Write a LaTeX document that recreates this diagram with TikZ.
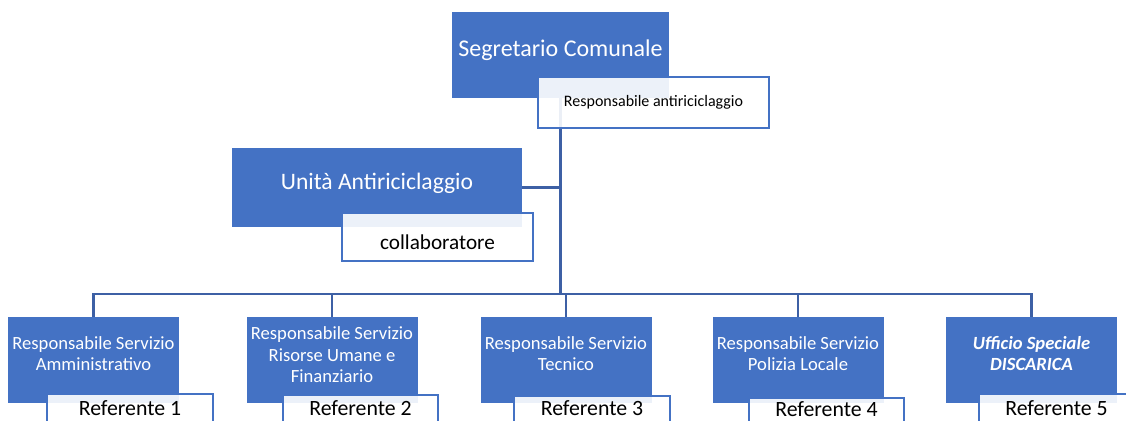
\documentclass[tikz,border=0pt]{standalone}
\usepackage{fontspec}
\setmainfont{Carlito}
\definecolor{boxblue}{RGB}{68,114,196}
\definecolor{lineblue}{RGB}{61,96,165}
\newcommand{\fsz}[1]{\fontsize{#1}{#1}\selectfont}
\newcommand{\fszb}[2]{\fontsize{#1}{#2}\selectfont}
\tikzset{
  bluebox/.style={fill=boxblue, draw=none, inner sep=0pt, minimum width=171pt, minimum height=86pt},
  boxtext/.style={text=white, align=center, inner sep=0pt},
  whitebox/.style={fill=white, fill opacity=0.9, draw=boxblue, draw opacity=1, line width=2pt, inner sep=0pt, text opacity=1},
  reftext/.style={text=black, inner sep=0pt, font=\fsz{21.8}, anchor=base},
  conn/.style={draw=lineblue, line width=2.6pt}
}
\begin{document}
\begin{tikzpicture}[x=1pt,y=-1pt]
\useasboundingbox (0,0) rectangle (1126,420);
\clip (0,0) rectangle (1126,420);
\coordinate (bus) at (561,294);
% blue boxes
\node[bluebox, minimum width=217pt, minimum height=86pt,
  label={[boxtext, font=\fsz{24}, yshift=5pt]center:Segretario Comunale}] (seg) at (560.5,55) {};
\node[bluebox, minimum width=290pt, minimum height=79pt,
  label={[boxtext, font=\fsz{23.6}, yshift=4.5pt]center:Unità Antiriciclaggio}] (unita) at (377,187.5) {};
\node[bluebox, label={[boxtext, font=\fszb{18.6}{21}, yshift=6pt]center:Responsabile Servizio\\Amministrativo}] (b1) at (93.5,360) {};
\node[bluebox, label={[boxtext, font=\fszb{18.6}{21.5}, yshift=5pt]center:Responsabile Servizio\\Risorse Umane e\\Finanziario}] (b2) at (332,360) {};
\node[bluebox, label={[boxtext, font=\fszb{18.6}{21}, yshift=6pt]center:Responsabile Servizio\\Tecnico}] (b3) at (566,360) {};
\node[bluebox, label={[boxtext, font=\fszb{18.6}{21}, yshift=6pt]center:Responsabile Servizio\\Polizia Locale}] (b4) at (798,360) {};
\node[bluebox, label={[boxtext, font=\fszb{18.6}{21}\itshape\bfseries, yshift=6.5pt]center:Ufficio Speciale\\DISCARICA}] (b5) at (1031.5,360) {};
% connectors
\draw[conn] (seg.south) -- (seg.south |- bus);
\draw[conn] (unita.east) -- (unita.east -| bus);
\draw[conn] (b1.north) -- (b1.north |- bus) -- (b5.north |- bus) -- (b5.north);
\draw[conn] (b2.north) -- (b2.north |- bus);
\draw[conn] (b3.north) -- (b3.north |- bus);
\draw[conn] (b4.north) -- (b4.north |- bus);
% white boxes
\node[whitebox, minimum width=231pt, minimum height=51pt, font=\fsz{16}] (ra) at (653.5,102.5) {Responsabile antiriciclaggio};
\node[whitebox, minimum width=191pt, minimum height=48pt,
  label={[text=black, inner sep=0pt, font=\fsz{21.2}, yshift=-5pt]center:collaboratore}] (col) at (437.5,237) {};
\node[whitebox, minimum width=166pt, minimum height=48pt, anchor=north,
  label={[reftext, yshift=-22pt]north:Referente 1}] (r1) at (130,393) {};
\node[whitebox, minimum width=155pt, minimum height=48pt, anchor=north,
  label={[reftext, yshift=-21pt]north:Referente 2}] (r2) at (360.5,394) {};
\node[whitebox, minimum width=156pt, minimum height=48pt, anchor=north,
  label={[reftext, yshift=-20pt]north:Referente 3}] (r3) at (592,395) {};
\node[whitebox, minimum width=155pt, minimum height=48pt, anchor=north,
  label={[reftext, yshift=-19pt]north:Referente 4}] (r4) at (826.5,397) {};
\node[whitebox, minimum width=155pt, minimum height=48pt, anchor=north,
  label={[reftext, yshift=-22pt]north:Referente 5}] (r5) at (1056.5,393) {};
\end{tikzpicture}
\end{document}
